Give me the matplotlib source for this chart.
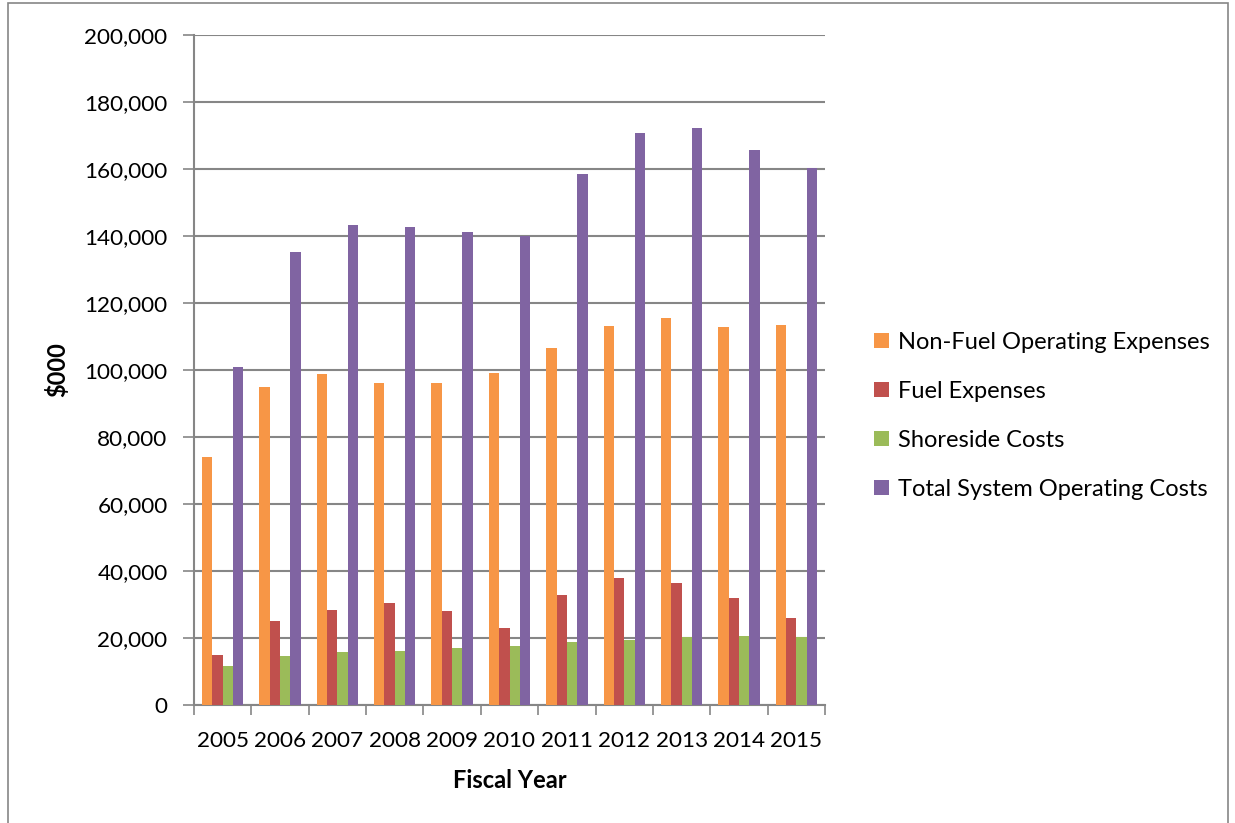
import matplotlib.pyplot as plt
import numpy as np
from matplotlib.ticker import FuncFormatter, FixedLocator
from matplotlib.patches import Rectangle

years = ['2005', '2006', '2007', '2008', '2009', '2010', '2011', '2012', '2013', '2014', '2015']
non_fuel = [74000, 95000, 98800, 96000, 96000, 99000, 106600, 113200, 115400, 112700, 113300]
fuel = [14900, 25200, 28300, 30300, 28000, 22900, 32700, 37800, 36300, 32000, 26100]
shoreside = [11600, 14600, 15900, 16100, 16900, 17600, 18700, 19300, 20200, 20500, 20400]
total = [101000, 135100, 143300, 142700, 141100, 139900, 158400, 170700, 172100, 165600, 160400]

series = [
    ('Non-Fuel Operating Expenses', non_fuel, '#f79646'),
    ('Fuel Expenses', fuel, '#c0504d'),
    ('Shoreside Costs', shoreside, '#9bbb59'),
    ('Total System Operating Costs', total, '#8064a2'),
]

plt.rcParams['font.family'] = ['Lato', 'DejaVu Sans']

fig = plt.figure(figsize=(12.35, 8.23), dpi=100)
ax = fig.add_axes([194 / 1235, 1 - 705 / 823, (825 - 194) / 1235, (705 - 35) / 823])

x = np.arange(len(years))
w = 0.18
for i, (name, vals, color) in enumerate(series):
    ax.bar(x + (i - 1.5) * w, vals, w, color=color, label=name, zorder=3)

ax.set_xlim(-0.5, len(years) - 0.5)
ax.set_ylim(0, 200000)
ax.set_yticks(np.arange(0, 200001, 20000))
ax.yaxis.set_major_formatter(FuncFormatter(lambda v, p: f'{int(v):,}'))
ax.grid(axis='y', color='#868686', linewidth=1.5, zorder=0)

ax.set_xticks(x)
ax.set_xticklabels(years)
ax.xaxis.set_minor_locator(FixedLocator(np.arange(-0.5, len(years), 1)))
ax.tick_params(axis='x', which='major', length=0, labelsize=16.2, pad=19)
ax.tick_params(axis='x', which='minor', length=7, color='#868686', width=1.2)
ax.tick_params(axis='y', length=8, color='#868686', width=1.2, labelsize=16.2, pad=11)

for s in ['top', 'right']:
    ax.spines[s].set_visible(False)
for s in ['left', 'bottom']:
    ax.spines[s].set_color('#868686')
    ax.spines[s].set_linewidth(1.5)

ax.set_xlabel('Fiscal Year', fontsize=17, fontweight='bold', labelpad=13)
ax.set_ylabel('$000', fontsize=17, fontweight='bold', labelpad=11)

ax.legend(loc='center left', bbox_to_anchor=(865 / 1235, 1 - 416 / 823), bbox_transform=fig.transFigure,
          frameon=False, fontsize=17, handlelength=0.6, handleheight=0.6, handletextpad=0.4,
          labelspacing=1.18, borderaxespad=0)

fig.patches.append(Rectangle((8 / 1235, -0.05), (1228 - 8) / 1235, 1.05 - 3 / 823, transform=fig.transFigure,
                             fill=False, edgecolor='#868686', linewidth=1.2))

fig.savefig('out.png', dpi=100)
